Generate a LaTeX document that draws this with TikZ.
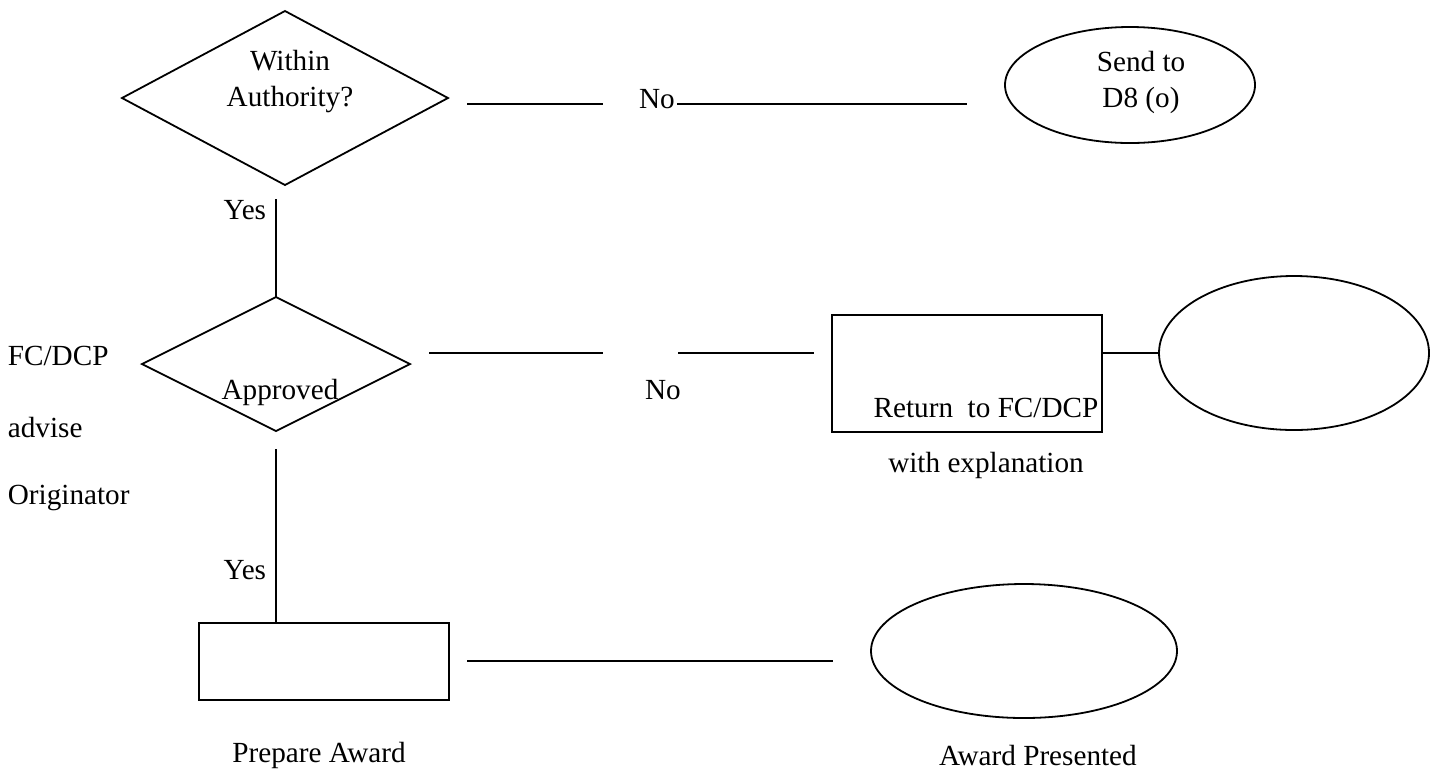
\documentclass[tikz,border=0pt]{standalone}
\usepackage{fontspec}
\setmainfont{Liberation Serif}
\usetikzlibrary{shapes.geometric}

\begin{document}
\begin{tikzpicture}[x=0.5pt,y=-0.5pt,line width=0.9pt,
        font=\fontsize{14.6}{18}\selectfont,
        decision/.style={diamond,draw,inner sep=0pt,outer sep=0pt},
        oval/.style={ellipse,draw,inner sep=0pt,outer sep=0pt},
        box/.style={rectangle,draw,inner sep=0pt,outer sep=0pt},
        txt/.style={inner sep=0pt,align=center}]
        \useasboundingbox (0,0) rectangle (1440,773);

        % top row
        \node[decision,minimum width=163pt,minimum height=87pt] (within) at (285,98) {};
        \node[txt] (withintext) at (290,82) {Within\\Authority?};
        \node[txt] (no1) at (657,99) {No};
        \node[oval,minimum width=125pt,minimum height=58pt] (sendto) at (1130,85) {};
        \node[txt] (sendtext) at (1141,82) {Send to\\D8 (o)};
        \coordinate (no1a) at (467,104);
        \coordinate (no1b) at (603,104);
        \coordinate (no1c) at (677,104);
        \coordinate (no1d) at (967,104);
        \draw (no1a) -- (no1b);
        \draw (no1c) -- (no1d);

        % middle row
        \node[txt,anchor=east] (yes1) at (267,210) {Yes};
        \coordinate (yes1top) at (276,199);
        \node[decision,minimum width=134pt,minimum height=67pt] (approved) at (276,364) {};
        \node[txt] (approvedtext) at (280,392) {Approved};
        \node[txt,anchor=west] (fcdcp) at (7,356) {FC/DCP};
        \node[txt,anchor=west] (advise) at (7,427) {advise};
        \node[txt,anchor=west] (originator) at (7,498) {Originator};
        \node[txt] (no2) at (663,390) {No};
        \node[box,minimum width=135pt,minimum height=58.5pt] (returnbox) at (967,373.5) {};
        \node[txt] (returntext) at (986,408) {Return\ \ to FC/DCP};
        \node[txt] (explain) at (986,465) {with explanation};
        \node[oval,minimum width=135pt,minimum height=77pt] (blankoval) at (1294,353) {};
        \coordinate (no2a) at (429,353);
        \coordinate (no2b) at (603,353);
        \coordinate (no2c) at (678,353);
        \coordinate (no2d) at (814,353);
        \draw (yes1top) -- (approved.north);
        \draw (no2a) -- (no2b);
        \draw (no2c) -- (no2d);
        \draw (returnbox.east |- blankoval.west) -- (blankoval.west);

        % bottom row
        \node[txt,anchor=east] (yes2) at (267,570) {Yes};
        \coordinate (yes2top) at (276,449);
        \node[box,minimum width=125pt,minimum height=38.5pt] (prepare) at (324,661.5) {};
        \node[txt] (preparetext) at (319,755) {Prepare Award};
        \node[oval,minimum width=153pt,minimum height=67pt] (presented) at (1024,651) {};
        \node[txt] (presentedtext) at (1038,755) {Award Presented};
        \coordinate (awarda) at (467,661);
        \coordinate (awardb) at (833,661);
        \draw (yes2top) -- (yes2top |- prepare.north);
        \draw (awarda) -- (awardb);
    \end{tikzpicture}
\end{document}
